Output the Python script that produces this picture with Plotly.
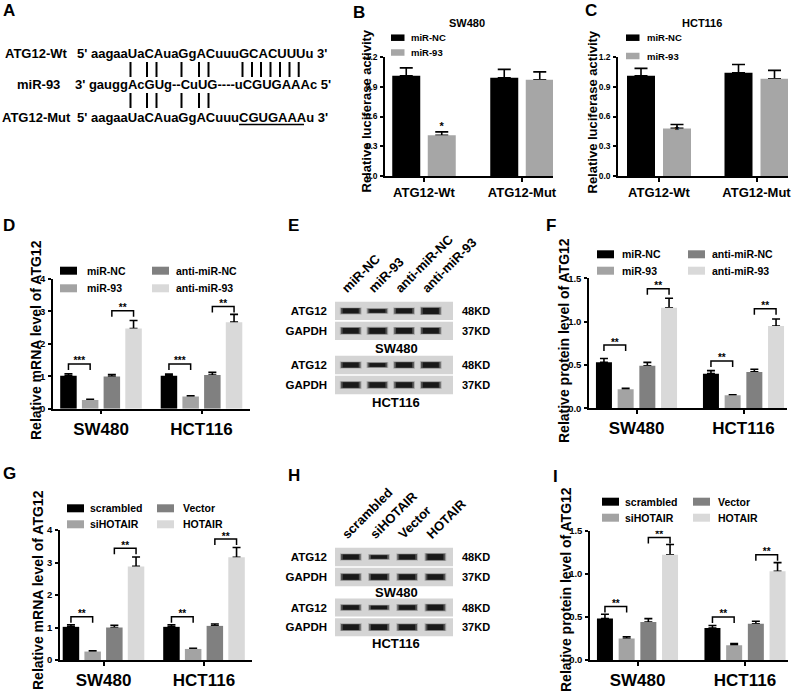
import plotly.graph_objects as go

W, H = 798, 696
FONT = "Liberation Sans, Arial, Helvetica, sans-serif"

# ---------------- data ----------------
# A: binding site
seq_labels = ["ATG12-Wt", "miR-93", "ATG12-Mut"]
seq_texts = [
    "5' aagaaUaCAuaGgACuuuGCACUUUu 3'",
    "3' gauggAcGUg--CuUG----uCGUGAAAc 5'",
    "5' aagaaUaCAuaGgACuuuCGUGAAAu 3'",
]

# B / C: luciferase
luc_cats = ["ATG12-Wt", "ATG12-Mut"]
luc_names = ["miR-NC", "miR-93"]
b_vals = [[1.01, 0.99], [0.41, 0.97]]
b_errs = [[0.08, 0.085], [0.035, 0.08]]
b_star_y = 0.49
c_vals = [[1.01, 1.04], [0.48, 0.98]]
c_errs = [[0.075, 0.085], [0.04, 0.085]]
c_star_y = 0.45

# D / F: miR-93 groups
cells = ["SW480", "HCT116"]
mir_names = ["miR-NC", "miR-93", "anti-miR-NC", "anti-miR-93"]
d_vals = [[1.02, 1.02], [0.27, 0.38], [0.99, 1.04], [2.47, 2.67]]
d_errs = [[0.06, 0.05], [0.02, 0.02], [0.06, 0.08], [0.25, 0.24]]
d_brackets = [[1.38, 1.38], [3.02, 3.15]]
d_stars = ["***", "**"]
f_vals = [[0.53, 0.40], [0.22, 0.15], [0.49, 0.42], [1.16, 0.95]]
f_errs = [[0.045, 0.035], [0.01, 0.005], [0.04, 0.03], [0.11, 0.08]]
f_brackets = [[0.73, 0.546], [1.38, 1.15]]
f_stars = ["**", "**"]

# G / I: HOTAIR groups
hot_names = ["scrambled", "siHOTAIR", "Vector", "HOTAIR"]
g_vals = [[1.02, 1.02], [0.26, 0.34], [1.00, 1.05], [2.88, 3.16]]
g_errs = [[0.06, 0.06], [0.02, 0.02], [0.07, 0.06], [0.29, 0.30]]
g_brackets = [[1.33, 1.33], [3.44, 3.72]]
g_stars = ["**", "**"]
i_vals = [[0.48, 0.37], [0.25, 0.17], [0.44, 0.42], [1.22, 1.03]]
i_errs = [[0.05, 0.03], [0.02, 0.02], [0.04, 0.03], [0.12, 0.10]]
i_brackets = [[0.62, 0.50], [1.42, 1.22]]
i_stars = ["**", "**"]

# E / H: western blot band intensities (rows: GAPDH, ATG12)
blot_rows = ["GAPDH", "ATG12"]
kd_labels = ["37KD", "48KD"]
e_sw = [[0.9, 0.95, 0.9, 0.85], [0.75, 0.45, 0.75, 1.0]]
e_hct = [[0.9, 0.85, 0.85, 0.85], [0.75, 0.5, 0.8, 0.85]]
h_sw = [[0.9, 0.9, 0.85, 0.85], [0.75, 0.45, 0.75, 0.95]]
h_hct = [[0.9, 0.9, 0.9, 0.9], [0.65, 0.45, 0.7, 0.9]]

LUC_COLORS = ["#000000", "#a6a6a6"]
FOUR_COLORS = ["#000000", "#a3a3a3", "#808080", "#d9d9d9"]

fig = go.Figure()
axes = {}
annotations = []
shapes = []


def fx(p):
    return p / W


def fy(p):
    return 1 - p / H


def ann(text, x, y, size, xanchor="center", yanchor="middle", angle=0,
        xref="paper", yref="paper"):
    annotations.append(dict(
        text=text, showarrow=False, textangle=angle,
        x=fx(x) if xref == "paper" else x, y=fy(y) if yref == "paper" else y,
        xref=xref, yref=yref, xanchor=xanchor, yanchor=yanchor,
        font=dict(family=FONT, size=size, color="black", weight="bold"),
    ))


def star_text(xs, ys, texts, xid, yid, size):
    fig.add_trace(go.Scatter(
        x=xs, y=ys, text=texts, mode="text", textposition="middle center",
        textfont=dict(family=FONT, size=size, color="#000000", weight="bold"),
        showlegend=False, hoverinfo="skip", xaxis=xid, yaxis=yid))


def legend(names, colors, cols, rows_y, box_w, box_h, size):
    # cols: list of (box_x, text_x); items fill column by column
    for k, name in enumerate(names):
        bx, tx = cols[k // len(rows_y)]
        y = rows_y[k % len(rows_y)]
        shapes.append(dict(type="rect", xref="paper", yref="paper",
                           x0=fx(bx), x1=fx(bx + box_w),
                           y0=fy(y + box_h / 2), y1=fy(y - box_h / 2),
                           fillcolor=colors[k], line=dict(width=0)))
        ann(name, tx, y, size, xanchor="left")


def bar_panel(idx, cats, names, vals, errs, colors, ax_px, g_px, y0_px, ytop_px,
              ymax, tickvals, tickfmt, slot_px, bar_px, cap, xfont, yfont,
              brackets=None, stars=None):
    xid = "x" if idx == 1 else f"x{idx}"
    yid = "y" if idx == 1 else f"y{idx}"
    sp = g_px[1] - g_px[0]
    n = len(names)
    slot, bw = slot_px / sp, bar_px / sp
    centers = [(-n / 2 + i + 0.5) * slot for i in range(n)]
    xs = list(range(len(cats)))
    # error bars first so the bars hide the lower end
    for i in range(n):
        fig.add_trace(go.Bar(
            x=xs, y=vals[i], width=bw, offset=centers[i] - bw / 2,
            marker=dict(color="rgba(0,0,0,0)", line=dict(width=0)),
            error_y=dict(type="data", array=errs[i], arrayminus=[0] * len(xs),
                         symmetric=False, color="black", thickness=1.6, width=cap),
            showlegend=False, hoverinfo="skip", xaxis=xid, yaxis=yid))
    for i, name in enumerate(names):
        fig.add_trace(go.Bar(
            x=xs, y=vals[i], width=bw, offset=centers[i] - bw / 2, name=name,
            marker=dict(color=colors[i], line=dict(width=0)),
            showlegend=False, xaxis=xid, yaxis=yid))
    ppu = (y0_px - ytop_px) / ymax
    if brackets:
        leg = 6 / ppu
        bx, by, sx, sy, st = [], [], [], [], []
        for p, tops in enumerate(brackets):
            for g, top in enumerate(tops):
                xa, xb = g + centers[2 * p], g + centers[2 * p + 1]
                bx += [xa, xa, xb, xb, None]
                by += [top - leg, top, top, top - leg, None]
                sx.append((xa + xb) / 2)
                sy.append(top + 2 / ppu)
                st.append(stars[p])
        fig.add_trace(go.Scatter(x=bx, y=by, mode="lines", showlegend=False,
                                 line=dict(color="black", width=1.5),
                                 hoverinfo="skip", xaxis=xid, yaxis=yid))
        star_text(sx, sy, st, xid, yid, 10)
    line = dict(showline=True, linecolor="black", linewidth=1.5, ticks="outside",
                ticklen=4, tickwidth=1.5, tickcolor="black", showgrid=False,
                zeroline=False, fixedrange=True, automargin=False)
    axes["xaxis" if idx == 1 else f"xaxis{idx}"] = dict(
        line, domain=[fx(ax_px[0]), fx(ax_px[1])],
        range=[(ax_px[0] - g_px[0]) / sp, (ax_px[1] - g_px[0]) / sp],
        anchor=yid, tickvals=xs, ticktext=cats,
        tickfont=dict(family=FONT, size=xfont, color="black", weight="bold"))
    axes["yaxis" if idx == 1 else f"yaxis{idx}"] = dict(
        line, domain=[fy(y0_px), fy(ytop_px)], range=[0, ymax], anchor=xid,
        tickvals=tickvals, tickformat=tickfmt, ticklen=3, ticklabelstandoff=1,
        tickfont=dict(family=FONT, size=yfont, color="black", weight="bold"))
    return centers


# ---------------- panel A ----------------
ann("A", 1, 11, 17, xanchor="left")
label_x = [3, 15, 0]
seq_x = [75, 73, 75]
row_y = [53, 85, 117]
for k in range(3):
    ann(seq_labels[k], label_x[k], row_y[k], 13, xanchor="left")
    ann(seq_texts[k], seq_x[k], row_y[k], 13, xanchor="left")
pair_top = [130.5, 147, 156.5, 181.5, 199, 208.5, 242.5, 252, 261, 270.5, 280, 289.5, 298.7]
pair_bot = pair_top[:6]
for xp in pair_top:
    shapes.append(dict(type="line", xref="paper", yref="paper", x0=fx(xp), x1=fx(xp),
                       y0=fy(62), y1=fy(77), line=dict(color="black", width=2)))
for xp in pair_bot:
    shapes.append(dict(type="line", xref="paper", yref="paper", x0=fx(xp), x1=fx(xp),
                       y0=fy(93), y1=fy(108), line=dict(color="black", width=2)))
shapes.append(dict(type="line", xref="paper", yref="paper", x0=fx(239), x1=fx(304),
                   y0=fy(124.5), y1=fy(124.5), line=dict(color="black", width=1.5)))

# ---------------- panels B, C ----------------
ann("B", 351, 12, 17, xanchor="left")
cen = bar_panel(1, luc_cats, luc_names, b_vals, b_errs, LUC_COLORS, (385, 553), (424, 522),
                176, 57, 1.2, [0, 0.3, 0.6, 0.9, 1.2], ".1f", 35.5, 28, 6.5, 13, 8.5)
star_text([cen[1]], [b_star_y], ["*"], "x", "y", 11)
ann("SW480", 467, 23.5, 11)
ann("Relative luciferase activity", 366, 111.5, 13, angle=-90)
legend(luc_names, LUC_COLORS, [(391, 409)], [37.7, 52.5], 13.5, 6.5, 9.5)

ann("C", 583, 11, 17, xanchor="left")
cen = bar_panel(2, luc_cats, luc_names, c_vals, c_errs, LUC_COLORS, (618, 788), (659, 756.5),
                176, 57, 1.2, [0, 0.3, 0.6, 0.9, 1.2], ".1f", 36, 28, 6.5, 13, 8.5)
star_text([cen[1]], [c_star_y], ["*"], "x2", "y2", 11)
ann("HCT116", 702, 23.5, 11)
ann("Relative luciferase activity", 592, 112.5, 13, angle=-90)
legend(luc_names, LUC_COLORS, [(626, 645)], [37.7, 56], 13.5, 6.5, 9.5)

# ---------------- panels D, F, G, I ----------------
ann("D", 1, 226, 17, xanchor="left")
bar_panel(3, cells, mir_names, d_vals, d_errs, FOUR_COLORS, (53, 250), (101, 201.5),
          408.7, 279, 4, [0, 1, 2, 3, 4], "d", 21.7, 16.5, 4, 17, 9.5, d_brackets, d_stars)
ann("Relative mRNA level of ATG12", 36, 340, 14, angle=-90)
legend(mir_names, FOUR_COLORS, [(60, 85), (152, 174)], [270.7, 288.3], 17, 8, 10.5)

ann("F", 544, 225, 17, xanchor="left")
bar_panel(4, cells, mir_names, f_vals, f_errs, FOUR_COLORS, (589, 787), (636.5, 743.5),
          408.3, 278.3, 1.5, [0, 0.5, 1.0, 1.5], ".1f", 21.7, 16, 4, 17, 9.5, f_brackets, f_stars)
ann("Relative protein level of ATG12", 564, 341, 14, angle=-90)
legend(mir_names, FOUR_COLORS, [(597, 620), (688, 710)], [254.3, 270.7], 17, 8, 10.5)

ann("G", 1, 473, 17, xanchor="left")
bar_panel(5, cells, hot_names, g_vals, g_errs, FOUR_COLORS, (60, 252), (103.5, 204),
          660, 530, 4, [0, 1, 2, 3, 4], "d", 21.7, 16.5, 4, 17, 9.5, g_brackets, g_stars)
ann("Relative mRNA level of ATG12", 38, 590, 14, angle=-90)
legend(hot_names, FOUR_COLORS, [(67, 88), (157, 181)], [508.3, 524.3], 17, 8, 10.5)

ann("I", 551, 476, 17, xanchor="left")
bar_panel(6, cells, hot_names, i_vals, i_errs, FOUR_COLORS, (590, 788), (637.5, 745),
          660, 530.7, 1.5, [0, 0.5, 1.0, 1.5], ".1f", 21.7, 16, 4, 17, 9.5, i_brackets, i_stars)
ann("Relative protein level of ATG12", 566, 590, 14, angle=-90)
legend(hot_names, FOUR_COLORS, [(602, 623), (693, 716)], [501.7, 517.7], 17, 8, 10.5)


# ---------------- panels E, H (blots) ----------------
def blot(xn, yn_sw, yn_hct, lanes, sw, hct, lane0_px, lane_sp, sw_px, hct_px, lab_y):
    xid, ysw, yhct = f"x{xn}", f"y{yn_sw}", f"y{yn_hct}"
    x_px = (335, 453)
    axes[f"xaxis{xn}"] = dict(
        domain=[fx(x_px[0]), fx(x_px[1])], type="category", categoryarray=lanes,
        range=[(x_px[0] - lane0_px) / lane_sp, (x_px[1] - lane0_px) / lane_sp],
        side="top", anchor=ysw, showline=False, ticks="", tickangle=-45,
        showgrid=False, zeroline=False, fixedrange=True, ticklabelstandoff=2,
        ticklabelshift=-8, automargin=False,
        tickfont=dict(family=FONT, size=13, color="black", weight="bold"))
    for yn, yid, (top, bot), data, cell, ly in [(yn_sw, ysw, sw_px, sw, "SW480", lab_y[0]),
                                                (yn_hct, yhct, hct_px, hct, "HCT116", lab_y[1])]:
        axes[f"yaxis{yn}"] = dict(
            domain=[fy(bot), fy(top)], type="category", categoryarray=blot_rows,
            range=[-0.5, 1.5], anchor=xid, showline=False, ticks="", showgrid=False,
            zeroline=False, fixedrange=True, ticklabelstandoff=7, automargin=False,
            tickfont=dict(family=FONT, size=11.5, color="black", weight="bold"))
        for r, row in enumerate(blot_rows):
            shapes.append(dict(type="rect", xref=f"{xid} domain", yref=yid, layer="below",
                               x0=0, x1=1, y0=r - 0.46, y1=r + 0.46,
                               fillcolor="#d4d4d4", line=dict(width=0)))
            inten = data[r]
            # line-ew markers are 1.4 x size long
            for size, add, alpha in [(15.5, 2.2, 0.22), (14, 1.0, 0.6), (11.5, 0, 1.0)]:
                fig.add_trace(go.Scatter(
                    x=lanes, y=[row] * len(lanes), mode="markers", showlegend=False,
                    hoverinfo="skip", xaxis=xid, yaxis=yid,
                    marker=dict(symbol="line-ew", size=size, color="black",
                                line=dict(color=f"rgba(25,25,25,{alpha})",
                                          width=[1.5 + 4.5 * v + add for v in inten]))))
            ann(kd_labels[r], 460, r, 11, xanchor="left", xref="paper", yref=yid)
        annotations.append(dict(text=cell, showarrow=False, x=0.52, y=fy(ly),
                                xref=f"{xid} domain", yref="paper",
                                xanchor="center", yanchor="middle",
                                font=dict(family=FONT, size=13, color="black", weight="bold")))


ann("E", 286, 226, 17, xanchor="left")
blot(7, 7, 8, mir_names, e_sw, e_hct, 350.7, 26.7, (301, 340.7), (355, 395), (349, 402))
ann("H", 286, 475, 17, xanchor="left")
blot(8, 9, 10, hot_names, h_sw, h_hct, 350.8, 28.2, (547, 587), (597.7, 637), (592, 643))

fig.update_layout(
    width=W, height=H, autosize=False, margin=dict(l=0, r=0, t=0, b=0, pad=0),
    paper_bgcolor="white", plot_bgcolor="white", barmode="overlay",
    showlegend=False, annotations=annotations, shapes=shapes,
    font=dict(family=FONT, color="black"), **axes)

fig.write_html("out.html", config={"displayModeBar": False, "responsive": False},
               post_script="document.body.style.margin='0';"
                           "document.body.style.overflow='hidden';")
